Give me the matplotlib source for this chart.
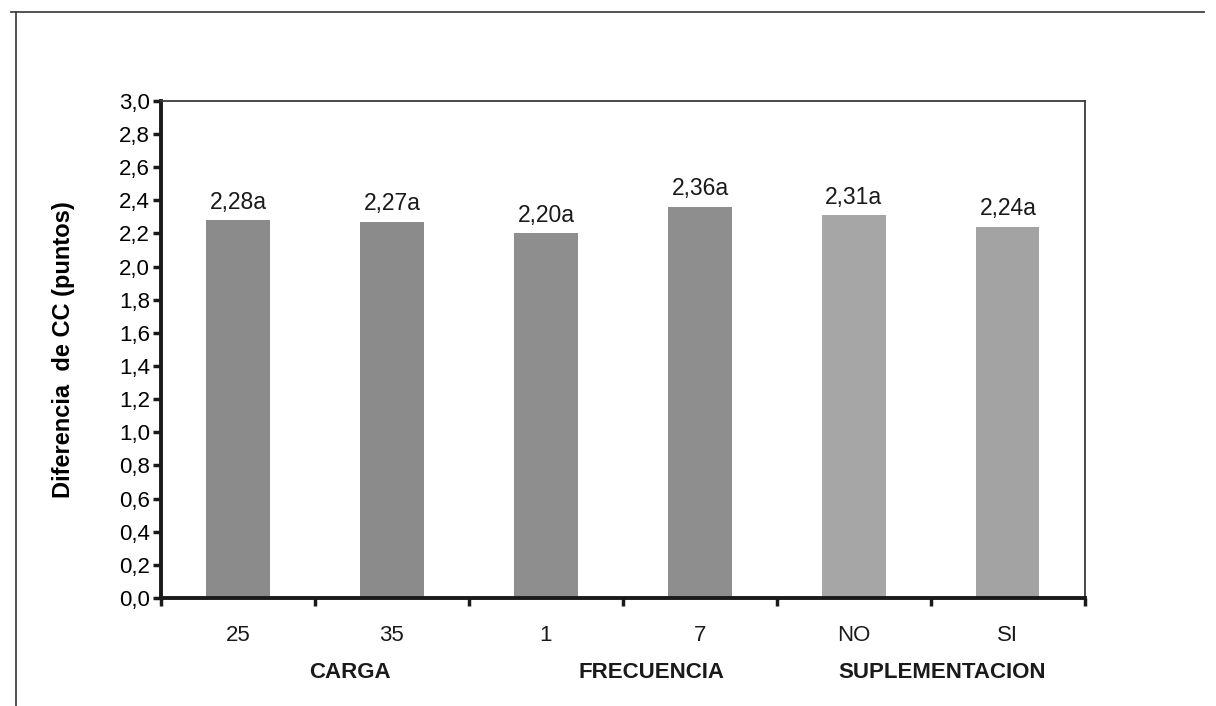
import matplotlib
matplotlib.use("Agg")
import matplotlib.pyplot as plt
from matplotlib.lines import Line2D

plt.rcParams['font.family'] = ['Liberation Sans', 'DejaVu Sans']

categories = ["25", "35", "1", "7", "NO", "SI"]
values = [2.28, 2.27, 2.20, 2.36, 2.31, 2.24]
letters = ["a", "a", "a", "a", "a", "a"]
groups = ["CARGA", "FRECUENCIA", "SUPLEMENTACION"]
group_positions = [0.73, 2.685, 4.57]
bar_colors = ["#8b8b8b", "#8b8b8b", "#8e8e8e", "#8e8e8e", "#a6a6a6", "#a3a3a3"]
y_ticks = [i / 10 for i in range(0, 31, 2)]

fig = plt.figure(figsize=(12.16, 7.06), dpi=100)
ax = fig.add_axes([0.1324, 0.153, 0.7598, 0.704])

xs = list(range(len(categories)))
ax.bar(xs, values, width=0.41, color=bar_colors, edgecolor="none", zorder=2)

for x, v, l in zip(xs, values, letters):
    ax.text(x, v + 0.04, f"{v:.2f}".replace(".", ",") + l,
            ha="center", va="bottom", fontsize=16.5, color="#1a1a1a")

ax.set_xlim(-0.5, len(categories) - 0.5)
ax.set_ylim(0, 3.0)
ax.set_yticks(y_ticks)
ax.set_yticklabels([f"{t:.1f}".replace(".", ",") for t in y_ticks], fontsize=16)
ax.set_xticks([i - 0.5 for i in range(len(categories) + 1)])
ax.set_xticklabels([])
ax.tick_params(axis="x", which="major", length=6, width=2.5, color="#1a1a1a")
ax.tick_params(axis="y", length=6, width=2.5, color="#1a1a1a", pad=2)

# category names under each bar, group names below them
for x, c in zip(xs, categories):
    ax.text(x, -0.0745, c, transform=ax.get_xaxis_transform(), ha="center",
            va="center", fontsize=16, color="#1a1a1a")
for g, gx in zip(groups, group_positions):
    ax.text(gx, -0.149, g, transform=ax.get_xaxis_transform(), ha="center",
            va="center", fontsize=16, fontweight="bold", color="#1a1a1a")

for side in ("left", "bottom"):
    ax.spines[side].set_linewidth(2.8)
    ax.spines[side].set_color("#1a1a1a")
for side in ("top", "right"):
    ax.spines[side].set_linewidth(1.3)
    ax.spines[side].set_color("#3a3a3a")

ax.set_ylabel("Diferencia  de CC (puntos)", fontsize=17, fontweight="bold")
ax.yaxis.set_label_coords(-0.093, 0.5)

# outer frame
fig.add_artist(Line2D([0.009, 0.99], [0.983, 0.983], transform=fig.transFigure,
                      color="#444444", linewidth=1.3))
fig.add_artist(Line2D([0.0135, 0.0135], [0.0, 0.983], transform=fig.transFigure,
                      color="#444444", linewidth=1.3))

fig.savefig("out.png", dpi=100, facecolor="white")
